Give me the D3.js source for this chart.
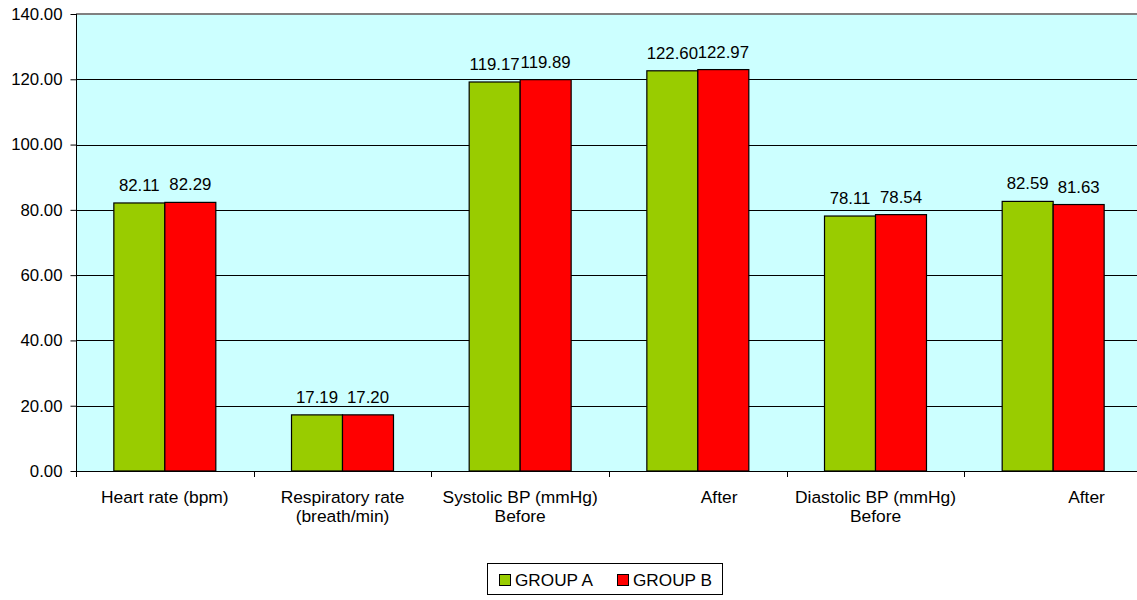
<!DOCTYPE html>
<html>
<head>
<meta charset="utf-8">
<script src="https://cdn.jsdelivr.net/npm/d3@7/dist/d3.min.js"></script>
<style>
  html, body { margin: 0; padding: 0; background: #fff; }
  svg { display: block; font-family: Arial, "Liberation Sans", sans-serif; }
  .lbl { white-space: pre; }
</style>
</head>
<body>
<svg id="chart" width="1137" height="600"></svg>
<script>
// Category labels (each entry is a list of lines)
const categories = [
  ["Heart rate (bpm)"],
  ["Respiratory rate", "(breath/min)"],
  ["Systolic BP (mmHg)", "Before"],
  ["         After"],
  ["Diastolic BP (mmHg)", "Before"],
  ["              After"]
];
const seriesNames = ["GROUP A", "GROUP B"];
const groupA = [82.11, 17.19, 119.17, 122.60, 78.11, 82.59];
const groupB = [82.29, 17.20, 119.89, 122.97, 78.54, 81.63];
const yTicks = [0, 20, 40, 60, 80, 100, 120, 140];
const colors = ["#99CC00", "#FF0000"];

const svg = d3.select("#chart");
const plot = { left: 76, top: 14, right: 1142, bottom: 471 };
const fs = "16.8px";
const catFs = "17.4px";

const x = d3.scaleBand()
  .domain(d3.range(categories.length))
  .range([plot.left, plot.right])
  .padding(0);
const barW = x.bandwidth() * 0.287;

const y = d3.scaleLinear().domain([0, 140]).range([plot.bottom, plot.top]);

// plot background
svg.append("rect")
  .attr("x", plot.left).attr("y", plot.top)
  .attr("width", plot.right - plot.left).attr("height", plot.bottom - plot.top)
  .attr("fill", "#CCFFFF");

// gridlines
svg.append("g")
  .selectAll("line")
  .data(yTicks.filter(d => d > 0 && d < 140))
  .join("line")
  .attr("x1", plot.left).attr("x2", plot.right)
  .attr("y1", d => Math.round(y(d)) + 0.5).attr("y2", d => Math.round(y(d)) + 0.5)
  .attr("stroke", "#000").attr("stroke-width", 1);

// top border of plot area
svg.append("line")
  .attr("x1", plot.left).attr("x2", plot.right)
  .attr("y1", plot.top).attr("y2", plot.top)
  .attr("stroke", "#808080").attr("stroke-width", 2);

// bars
const series = [groupA, groupB];
series.forEach((vals, si) => {
  svg.append("g")
    .selectAll("rect")
    .data(vals)
    .join("rect")
    .attr("x", (d, i) => x(i) + x.bandwidth() / 2 - barW + si * barW)
    .attr("y", d => y(d))
    .attr("width", barW)
    .attr("height", d => y(0) - y(d))
    .attr("fill", colors[si])
    .attr("stroke", "#000")
    .attr("stroke-width", 1.2);

  svg.append("g")
    .selectAll("text")
    .data(vals)
    .join("text")
    .attr("x", (d, i) => x(i) + x.bandwidth() / 2 - barW + si * barW + barW / 2)
    .attr("y", d => y(d) - 12)
    .attr("text-anchor", "middle")
    .attr("font-size", fs)
    .attr("fill", "#000")
    .text(d => d.toFixed(2));
});

// y axis
const yAxis = svg.append("g")
  .attr("transform", `translate(${plot.left + 0.5},0)`)
  .call(d3.axisLeft(y).tickValues(yTicks).tickSize(6).tickPadding(8).tickFormat(d3.format(".2f")));
yAxis.select(".domain").attr("stroke", "#000").attr("d", `M0,${plot.top}V${plot.bottom}`);
yAxis.selectAll(".tick line").attr("stroke", "#000");
yAxis.selectAll(".tick text").attr("font-size", fs).attr("fill", "#000").attr("font-family", null);

// x axis line and category dividers
svg.append("line")
  .attr("x1", plot.left).attr("x2", plot.right)
  .attr("y1", plot.bottom + 0.5).attr("y2", plot.bottom + 0.5)
  .attr("stroke", "#000");
svg.append("g")
  .selectAll("line")
  .data(d3.range(categories.length + 1))
  .join("line")
  .attr("x1", i => Math.round(plot.left + i * x.step()) + 0.5)
  .attr("x2", i => Math.round(plot.left + i * x.step()) + 0.5)
  .attr("y1", plot.bottom).attr("y2", plot.bottom + 6)
  .attr("stroke", "#000");

// category labels
const catG = svg.append("g");
categories.forEach((lines, i) => {
  const t = catG.append("text")
    .attr("class", "lbl")
    .attr("x", x(i) + x.bandwidth() / 2)
    .attr("y", 503)
    .attr("text-anchor", "middle")
    .attr("font-size", catFs)
    .attr("fill", "#000");
  lines.forEach((ln, k) => {
    t.append("tspan")
      .attr("x", x(i) + x.bandwidth() / 2)
      .attr("dy", k === 0 ? 0 : 19)
      .text(ln);
  });
});

// legend
const lg = svg.append("g");
lg.append("rect")
  .attr("x", 487.5).attr("y", 563.5).attr("width", 235).attr("height", 31)
  .attr("fill", "#fff").attr("stroke", "#000");
const legendItems = seriesNames.map((n, i) => ({ name: n, color: colors[i] }));
const lx = [499, 617];
legendItems.forEach((it, i) => {
  lg.append("rect")
    .attr("x", lx[i] + 0.5).attr("y", 574.5).attr("width", 11).attr("height", 11)
    .attr("fill", it.color).attr("stroke", "#000");
  lg.append("text")
    .attr("x", lx[i] + 16).attr("y", 586)
    .attr("font-size", "17.2px").attr("fill", "#000")
    .text(it.name);
});
</script>
</body>
</html>
